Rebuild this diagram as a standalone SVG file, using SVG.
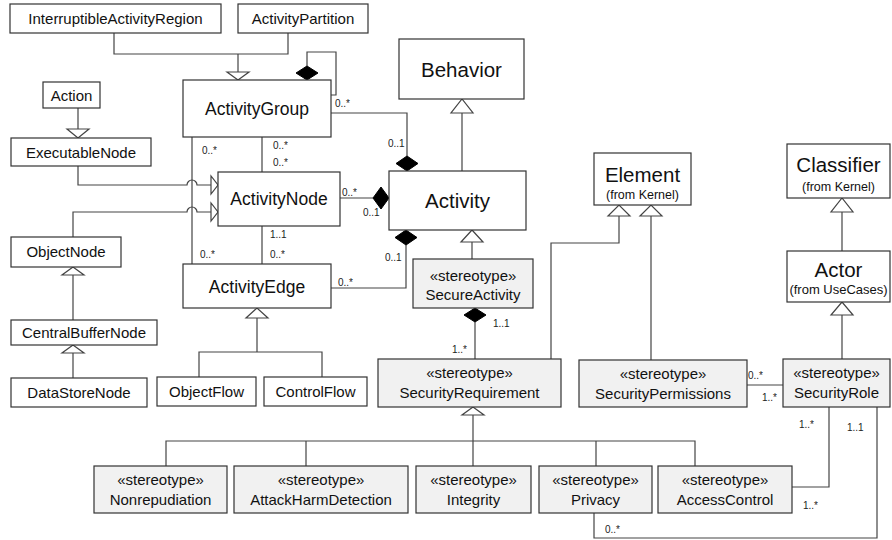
<svg xmlns="http://www.w3.org/2000/svg" width="892" height="540" viewBox="0 0 892 540">
<style>
  .box{fill:#ffffff;stroke:#333;stroke-width:1.2}
  .st{fill:#f1f1f1;stroke:#333;stroke-width:1.2}
  .t{font-family:"Liberation Sans",Arial,sans-serif;fill:#111;text-anchor:middle}
  .s15{font-size:15px}
  .s17{font-size:17.5px}
  .s20{font-size:20.5px}
  .s12{font-size:12.5px}
  .m{font-family:"Liberation Sans",Arial,sans-serif;font-size:10px;fill:#222}
  .ln{fill:none;stroke:#444;stroke-width:1.2}
  .gen{fill:#fff;stroke:#444;stroke-width:1.2}
  .dia{fill:#000;stroke:#000;stroke-width:1}
</style>
<rect width="892" height="540" fill="#fff"/>
<g id="connectors">
  <path class="ln" d="M114,33 V54 H288 V33 M238,54 V72"/>
  <polygon class="gen" points="227,72 249,72 238,80"/>
  <path class="ln" d="M307,66 V52 H336 V95 H331"/>
  <polygon class="dia" points="307,80 318,73 307,66 296,73"/>
  <path class="ln" d="M331,113 H407 V156"/>
  <polygon class="dia" points="407,156 418,163.5 407,171 396,163.5"/>
  <path class="ln" d="M78,108 V129"/>
  <polygon class="gen" points="67,129 89,129 78,138"/>
  <path class="ln" d="M78,166 V185 H187 A5,5 0 0 1 197,185 H211"/>
  <polygon class="gen" points="211,176 211,194 218,185"/>
  <path class="ln" d="M73,237 V212 H187 A5,5 0 0 1 197,212 H211"/>
  <polygon class="gen" points="211,203 211,221 218,212"/>
  <path class="ln" d="M73,320 V275"/>
  <polygon class="gen" points="62,275 84,275 73,267"/>
  <path class="ln" d="M73,378 V353"/>
  <polygon class="gen" points="62,353 84,353 73,345"/>
  <path class="ln" d="M192,137 V264 M262,137 V172 M262,226 V264"/>
  <path class="ln" d="M340,198 H373"/>
  <polygon class="dia" points="373,198 381,187 389,198 381,209"/>
  <path class="ln" d="M331,288 H406 V245"/>
  <polygon class="dia" points="406,230 417,237.5 406,245 395,237.5"/>
  <path class="ln" d="M462,171 V113"/>
  <polygon class="gen" points="451,113 473,113 462,99"/>
  <path class="ln" d="M472,259 V242"/>
  <polygon class="gen" points="461,242 483,242 472,230"/>
  <path class="ln" d="M475,322 V359"/>
  <polygon class="dia" points="475,308 486,315 475,322 464,315"/>
  <path class="ln" d="M551,359 V243 H619 V216"/>
  <polygon class="gen" points="608,216 630,216 619,205"/>
  <path class="ln" d="M651,360 V216"/>
  <polygon class="gen" points="640,216 662,216 651,205"/>
  <path class="ln" d="M842,251 V212"/>
  <polygon class="gen" points="831,212 853,212 842,198"/>
  <path class="ln" d="M842,359 V315"/>
  <polygon class="gen" points="831,315 853,315 842,302"/>
  <path class="ln" d="M747,385 H783"/>
  <path class="ln" d="M829,407 V487 H792"/>
  <path class="ln" d="M877,407 V538 H594 V513"/>
  <path class="ln" d="M473,466 V415"/>
  <polygon class="gen" points="462,415 484,415 473,407"/>
  <path class="ln" d="M166,466 V441 H695 V466 M306,441 V466 M596,441 V466"/>
  <path class="ln" d="M257,318 V352 M199,377 V352 H322 V377"/>
  <polygon class="gen" points="246,318 268,318 257,308"/>
  <text class="m" x="335" y="107">0..*</text>
  <text class="m" x="388" y="147">0..1</text>
  <text class="m" x="202" y="154">0..*</text>
  <text class="m" x="273" y="149">0..*</text>
  <text class="m" x="273" y="166">0..*</text>
  <text class="m" x="342" y="196">0..*</text>
  <text class="m" x="363" y="216">0..1</text>
  <text class="m" x="270" y="238">1..1</text>
  <text class="m" x="270" y="258">0..*</text>
  <text class="m" x="200" y="258">0..*</text>
  <text class="m" x="338" y="286">0..*</text>
  <text class="m" x="385" y="261">0..1</text>
  <text class="m" x="493" y="327">1..1</text>
  <text class="m" x="452" y="353">1..*</text>
  <text class="m" x="748" y="379">0..*</text>
  <text class="m" x="762" y="401">1..*</text>
  <text class="m" x="799" y="428">1..*</text>
  <text class="m" x="847" y="431">1..1</text>
  <text class="m" x="803" y="509">1..*</text>
  <text class="m" x="605" y="533">0..*</text>
</g>
<g id="InterruptibleActivityRegion"><rect class="box" x="10" y="4" width="211" height="29"/><text class="t s15" x="115.5" y="24">InterruptibleActivityRegion</text></g>
<g id="ActivityPartition"><rect class="box" x="238" y="4" width="130" height="29"/><text class="t s15" x="303" y="24">ActivityPartition</text></g>
<g id="ActivityGroup"><rect class="box" x="183" y="80" width="148" height="57"/><text class="t s17" x="257" y="115">ActivityGroup</text></g>
<g id="Action"><rect class="box" x="43" y="82" width="57" height="26"/><text class="t s15" x="71.5" y="101">Action</text></g>
<g id="ExecutableNode"><rect class="box" x="11" y="138" width="140" height="28"/><text class="t s15" x="81" y="158">ExecutableNode</text></g>
<g id="ActivityNode"><rect class="box" x="218" y="172" width="122" height="54"/><text class="t s17" x="279" y="205">ActivityNode</text></g>
<g id="ObjectNode"><rect class="box" x="11" y="237" width="110" height="30"/><text class="t s15" x="66" y="257">ObjectNode</text></g>
<g id="CentralBufferNode"><rect class="box" x="11" y="320" width="146" height="25"/><text class="t s15" x="84" y="338">CentralBufferNode</text></g>
<g id="DataStoreNode"><rect class="box" x="11" y="378" width="136" height="29"/><text class="t s15" x="79" y="398">DataStoreNode</text></g>
<g id="ActivityEdge"><rect class="box" x="183" y="264" width="148" height="44"/><text class="t s17" x="257" y="293">ActivityEdge</text></g>
<g id="ObjectFlow"><rect class="box" x="157" y="377" width="99" height="29"/><text class="t s15" x="206.5" y="397">ObjectFlow</text></g>
<g id="ControlFlow"><rect class="box" x="264" y="377" width="103" height="29"/><text class="t s15" x="315.5" y="397">ControlFlow</text></g>
<g id="Behavior"><rect class="box" x="399" y="39" width="125" height="60"/><text class="t s20" x="461.5" y="77">Behavior</text></g>
<g id="Activity"><rect class="box" x="389" y="171" width="137" height="59"/><text class="t s20" x="457.5" y="208">Activity</text></g>
<g id="SecureActivity"><rect class="st" x="413" y="259" width="120" height="49"/><text class="t s15" x="473" y="281">«stereotype»</text><text class="t s15" x="473" y="300">SecureActivity</text></g>
<g id="SecurityRequirement"><rect class="st" x="378" y="359" width="183" height="48"/><text class="t s15" x="469.5" y="378">«stereotype»</text><text class="t s15" x="469.5" y="398">SecurityRequirement</text></g>
<g id="Element"><rect class="box" x="594" y="153" width="97" height="52"/><text class="t s20" x="642.5" y="182">Element</text><text class="t s12" x="642.5" y="199">(from Kernel)</text></g>
<g id="SecurityPermissions"><rect class="st" x="579" y="360" width="168" height="47"/><text class="t s15" x="663" y="379">«stereotype»</text><text class="t s15" x="663" y="399">SecurityPermissions</text></g>
<g id="Classifier"><rect class="box" x="787" y="144" width="103" height="54"/><text class="t s20" x="838.5" y="172">Classifier</text><text class="t s12" x="838.5" y="191">(from Kernel)</text></g>
<g id="Actor"><rect class="box" x="787" y="251" width="103" height="51"/><text class="t s20" x="838.5" y="277">Actor</text><text class="t" style="font-size:13px" x="838.5" y="294">(from UseCases)</text></g>
<g id="SecurityRole"><rect class="st" x="783" y="359" width="107" height="48"/><text class="t s15" x="836.5" y="378">«stereotype»</text><text class="t s15" x="836.5" y="398">SecurityRole</text></g>
<g id="Nonrepudiation"><rect class="st" x="94" y="466" width="133" height="47"/><text class="t s15" x="160.5" y="485">«stereotype»</text><text class="t s15" x="160.5" y="505">Nonrepudiation</text></g>
<g id="AttackHarmDetection"><rect class="st" x="234" y="466" width="174" height="47"/><text class="t s15" x="321" y="485">«stereotype»</text><text class="t s15" x="321" y="505">AttackHarmDetection</text></g>
<g id="Integrity"><rect class="st" x="416" y="466" width="115" height="47"/><text class="t s15" x="473.5" y="485">«stereotype»</text><text class="t s15" x="473.5" y="505">Integrity</text></g>
<g id="Privacy"><rect class="st" x="539" y="466" width="113" height="47"/><text class="t s15" x="595.5" y="485">«stereotype»</text><text class="t s15" x="595.5" y="505">Privacy</text></g>
<g id="AccessControl"><rect class="st" x="658" y="466" width="134" height="47"/><text class="t s15" x="725" y="485">«stereotype»</text><text class="t s15" x="725" y="505">AccessControl</text></g>
</svg>
